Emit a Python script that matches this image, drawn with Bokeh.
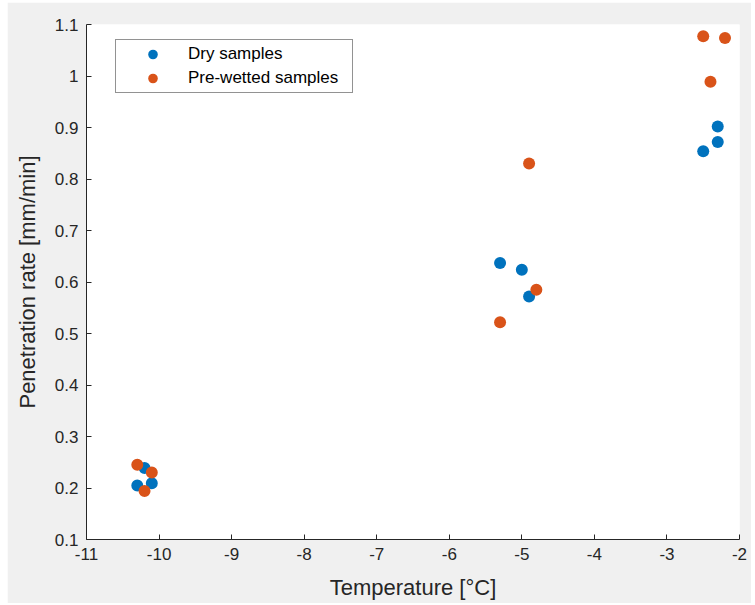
from bokeh.plotting import figure
from bokeh.models import FixedTicker, CustomJSTickFormatter, Legend, LegendItem
from bokeh.embed import file_html
from bokeh.resources import INLINE

# Data
dry_temp = [-10.2, -10.3, -10.1, -5.3, -5.0, -4.9, -2.5, -2.3, -2.3]
dry_rate = [0.239, 0.205, 0.209, 0.637, 0.624, 0.572, 0.854, 0.872, 0.902]
wet_temp = [-10.3, -10.1, -10.2, -4.9, -5.3, -4.8, -2.5, -2.2, -2.4]
wet_rate = [0.245, 0.230, 0.194, 0.830, 0.522, 0.585, 1.077, 1.074, 0.989]
x_ticks = [-11, -10, -9, -8, -7, -6, -5, -4, -3, -2]
y_ticks = [0.1, 0.2, 0.3, 0.4, 0.5, 0.6, 0.7, 0.8, 0.9, 1.0, 1.1]

FONT = "Liberation Sans"
TXT = "#262626"

p = figure(width=744, height=601, x_range=(-11, -2), y_range=(0.1, 1.1),
           output_backend="svg", toolbar_location=None,
           min_border_left=79, min_border_right=12, min_border_top=22, min_border_bottom=64)
p.margin = (2, 0, 0, 7)
p.border_fill_color = "#f0f0f0"
p.background_fill_color = "white"
p.outline_line_color = None
p.grid.visible = False

r1 = p.scatter(dry_temp, dry_rate, size=12, color="#0072BD", line_color=None)
r2 = p.scatter(wet_temp, wet_rate, size=12, color="#D95319", line_color=None)

for ax in (p.xaxis[0], p.yaxis[0]):
    ax.axis_line_color = TXT
    ax.major_tick_line_color = TXT
    ax.major_tick_in = 5
    ax.major_tick_out = 0
    ax.minor_tick_line_color = None
    ax.major_label_text_font = FONT
    ax.major_label_text_font_size = "17px"
    ax.major_label_text_color = TXT
    ax.axis_label_text_font = FONT
    ax.axis_label_text_font_size = "22px"
    ax.axis_label_text_font_style = "normal"
    ax.axis_label_text_color = TXT

p.xaxis.ticker = FixedTicker(ticks=x_ticks)
p.yaxis.ticker = FixedTicker(ticks=y_ticks)
p.yaxis.formatter = CustomJSTickFormatter(code="return (Math.round(tick*10)/10).toString();")
p.xaxis.formatter = CustomJSTickFormatter(code="return Math.round(tick).toString();")
p.xaxis.axis_label = "Temperature [°C]"
p.yaxis.axis_label = "Penetration rate [mm/min]"
p.xaxis.major_label_standoff = 8
p.yaxis.major_label_standoff = 8
p.xaxis.axis_label_standoff = 12
p.yaxis.axis_label_standoff = 12

legend = Legend(items=[LegendItem(label="Dry samples", renderers=[r1]),
                       LegendItem(label="Pre-wetted samples", renderers=[r2])],
                location=(29, 446))
legend.border_line_color = "#262626"
legend.border_line_width = 1
legend.background_fill_color = "white"
legend.margin = 0
legend.padding = 2
legend.spacing = 0
legend.glyph_width = 69
legend.glyph_height = 24
legend.label_standoff = 1
legend.label_width = 162
legend.label_text_font = FONT
legend.label_text_font_size = "17px"
legend.label_text_color = "black"
p.add_layout(legend, "center")

open("out.html", "w").write(file_html(p, INLINE))
